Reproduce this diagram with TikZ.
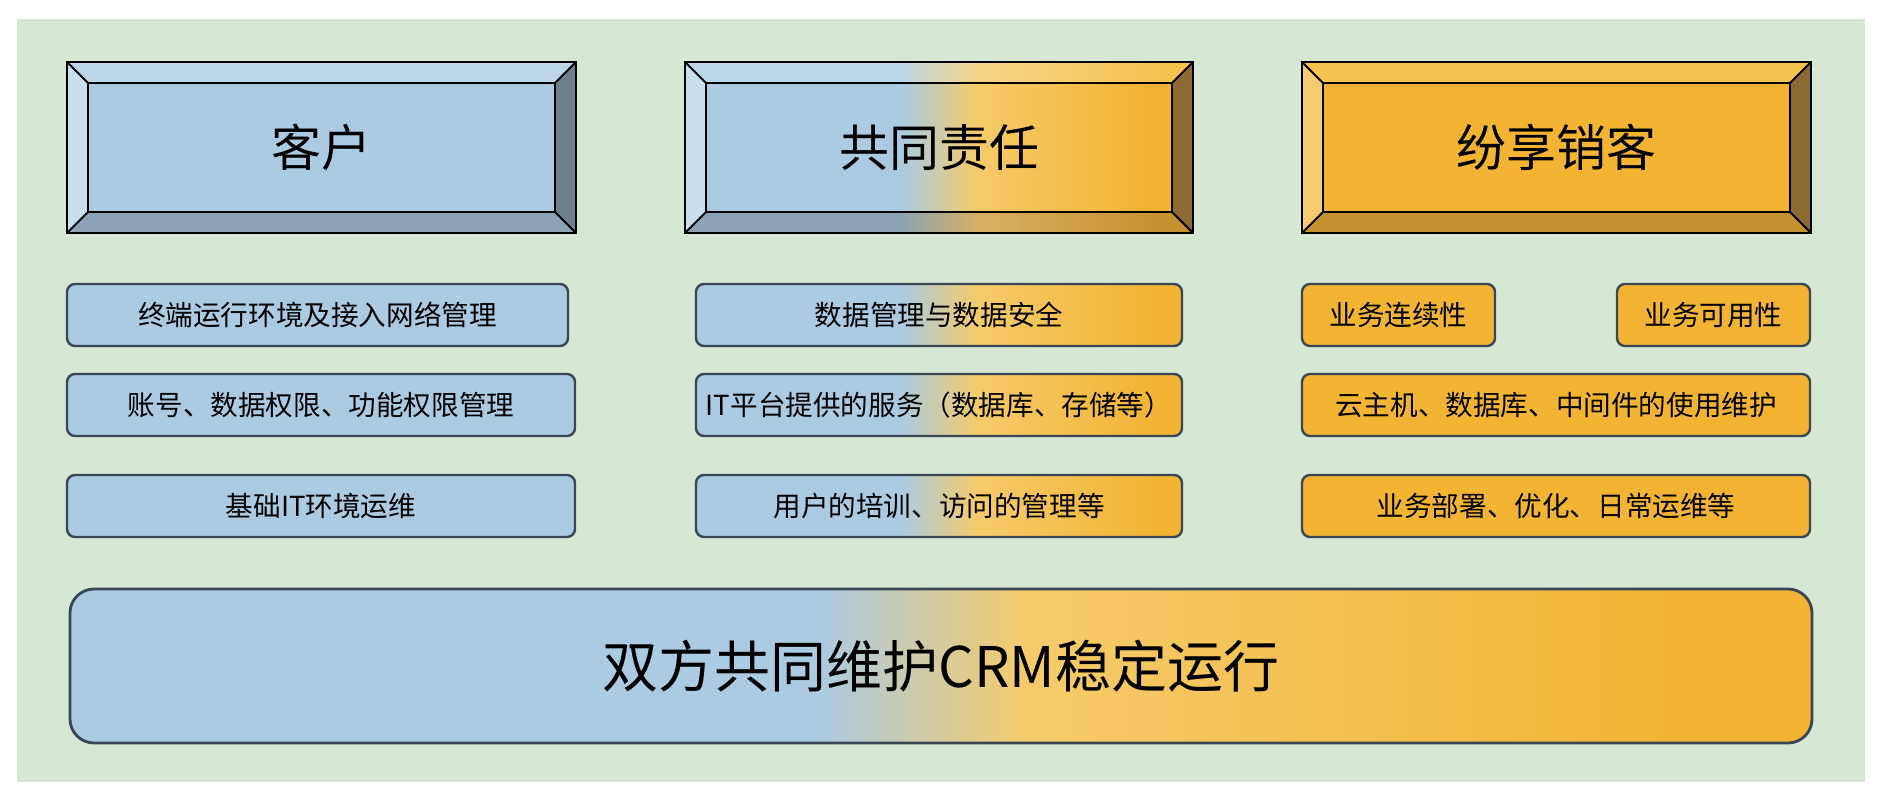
\documentclass[tikz,border=0pt]{standalone}
\usepackage{fontspec}
\setmainfont{Noto Sans CJK SC}
\usetikzlibrary{calc}
\definecolor{bg}{HTML}{D6E7D4}
\definecolor{cb}{HTML}{ABCBE3}
\definecolor{cbT}{HTML}{BBD6E9}
\definecolor{cbL}{HTML}{CADFEE}
\definecolor{cbR}{HTML}{6E7F8E}
\definecolor{cbB}{HTML}{8AA3B6}
\definecolor{co}{HTML}{F3B434}
\definecolor{coLt}{HTML}{F5CB6A}
\definecolor{coT}{HTML}{F5C350}
\definecolor{coTl}{HTML}{F6D487}
\definecolor{coL}{HTML}{F5CD70}
\definecolor{coR}{HTML}{8C6B33}
\definecolor{coB}{HTML}{C4912F}
\definecolor{coBl}{HTML}{D9B062}
\definecolor{bd}{HTML}{3A4656}
\pgfdeclarehorizontalshading{midmain}{100bp}{color(0bp)=(cb); color(46bp)=(cb); color(54bp)=(coLt); color(72bp)=(co); color(100bp)=(co)}
\pgfdeclarehorizontalshading{midtop}{100bp}{color(0bp)=(cbT); color(46bp)=(cbT); color(54bp)=(coTl); color(72bp)=(coT); color(100bp)=(coT)}
\pgfdeclarehorizontalshading{midbot}{100bp}{color(0bp)=(cbB); color(46bp)=(cbB); color(54bp)=(coBl); color(72bp)=(coB); color(100bp)=(coB)}
\pgfdeclarehorizontalshading{botmain}{100bp}{color(0bp)=(cb); color(46.5bp)=(cb); color(52.5bp)=(coLt); color(71bp)=(co); color(100bp)=(co)}
\tikzset{
  small/.style={draw=bd, line width=1.2pt, rounded corners=4pt, font=\fontsize{13.8}{16}\selectfont, inner sep=0pt},
  blu/.style={fill=cb},
  ora/.style={fill=co},
  mix/.style={shading=midmain},
  edge/.style={draw=black, line width=1pt, line join=miter},
  head/.style={font=\fontsize{25}{30}\selectfont, inner sep=0pt},
  bM/.style={fill=cb}, bT/.style={fill=cbT}, bL/.style={fill=cbL}, bR/.style={fill=cbR}, bB/.style={fill=cbB},
  oM/.style={fill=co}, oT/.style={fill=coT}, oL/.style={fill=coL}, oR/.style={fill=coR}, oB/.style={fill=coB},
  mM/.style={shading=midmain}, mT/.style={shading=midtop}, mB/.style={shading=midbot},
}
\begin{document}
\begin{tikzpicture}[x=0.5pt,y=-0.5pt]
\useasboundingbox (0,0) rectangle (1877,796);
\fill[white] (0,0) rectangle (1877,796);
\fill[bg] (17,19) rectangle (1865,782);

% header boxes
\foreach \nm/\xa/\xb/\tx/\mn/\tp/\lf/\rt/\bt in {
  h1/67/576/客户/bM/bT/bL/bR/bB,
  h2/685/1193/共同责任/mM/mT/bL/oR/mB,
  h3/1302/1811/纷享销客/oM/oT/oL/oR/oB}{
  \coordinate (\nm-a) at (\xa,62);
  \coordinate (\nm-b) at (\xb,233);
  \coordinate (\nm-c) at (\xa+21,83);
  \coordinate (\nm-d) at (\xb-21,212);
  \path[\tp] (\nm-a) -- (\nm-b |- \nm-a) -- (\nm-d |- \nm-c) -- (\nm-c) -- cycle;
  \path[\bt] (\nm-a |- \nm-b) -- (\nm-b) -- (\nm-d) -- (\nm-c |- \nm-d) -- cycle;
  \path[\lf] (\nm-a) -- (\nm-c) -- (\nm-c |- \nm-d) -- (\nm-a |- \nm-b) -- cycle;
  \path[\rt] (\nm-b |- \nm-a) -- (\nm-d |- \nm-c) -- (\nm-d) -- (\nm-b) -- cycle;
  \path[\mn] (\nm-c) rectangle (\nm-d);
  \draw[edge] (\nm-a) rectangle (\nm-b);
  \draw[edge] (\nm-c) rectangle (\nm-d);
  \draw[edge] (\nm-a) -- (\nm-c) (\nm-b |- \nm-a) -- (\nm-d |- \nm-c) (\nm-b) -- (\nm-d) (\nm-a |- \nm-b) -- (\nm-c |- \nm-d);
  \node[head] (\nm) at ($(\nm-a)!0.5!(\nm-b)$) {\tx};
}

% small boxes
\node[small,blu,minimum width=250.5pt,minimum height=31pt] (l1) at (317.5,315) {终端运行环境及接入网络管理};
\node[small,blu,minimum width=254pt,minimum height=31pt] (l2) at (321,405) {账号、数据权限、功能权限管理};
\node[small,blu,minimum width=254pt,minimum height=31pt] (l3) at (321,506) {基础IT环境运维};
\node[small,mix,minimum width=243pt,minimum height=31pt] (m1) at (939,315) {数据管理与数据安全};
\node[small,mix,minimum width=243pt,minimum height=31pt] (m2) at (939,405) {IT平台提供的服务（数据库、存储等）};
\node[small,mix,minimum width=243pt,minimum height=31pt] (m3) at (939,506) {用户的培训、访问的管理等};
\node[small,ora,minimum width=96.5pt,minimum height=31pt] (r1) at (1398.5,315) {业务连续性};
\node[small,ora,minimum width=96.5pt,minimum height=31pt] (r2) at (1713.5,315) {业务可用性};
\node[small,ora,minimum width=254pt,minimum height=31pt] (r3) at (1556,405) {云主机、数据库、中间件的使用维护};
\node[small,ora,minimum width=254pt,minimum height=31pt] (r4) at (1556,506) {业务部署、优化、日常运维等};

% bottom
\node[draw=bd, line width=1.4pt, rounded corners=12pt, shading=botmain, minimum width=871pt, minimum height=77pt, inner sep=0pt, font=\fontsize{28}{32}\selectfont] (bot) at (941,666) {双方共同维护CRM稳定运行};
\end{tikzpicture}
\end{document}
